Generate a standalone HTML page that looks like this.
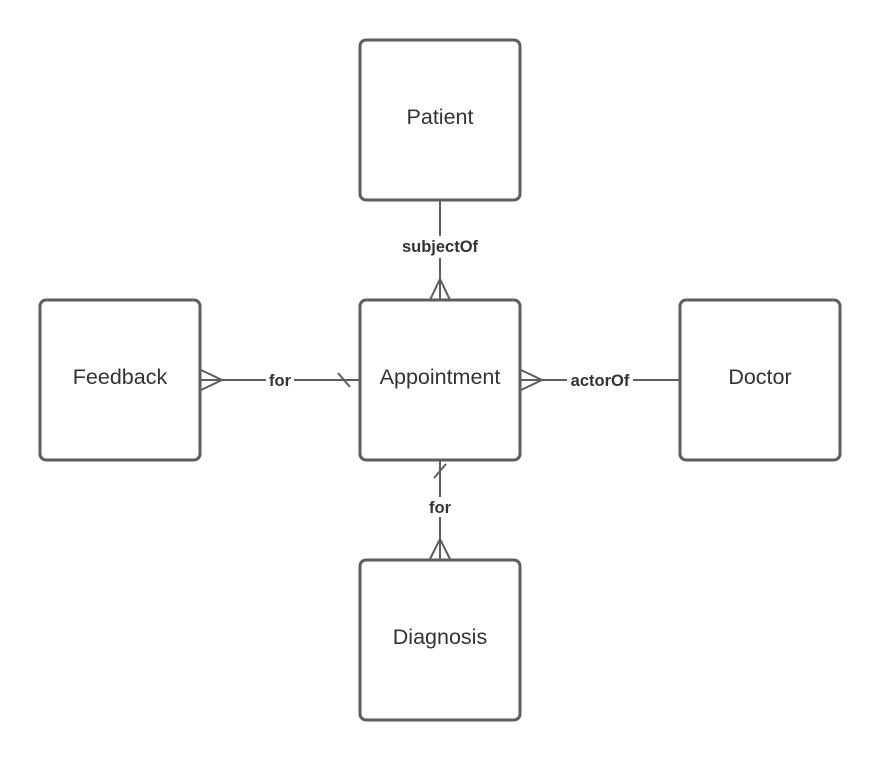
<!DOCTYPE html>
<html><head><style>body{margin:0;background:#fff}</style></head><body>
<svg width="880" height="760" xmlns="http://www.w3.org/2000/svg" font-family="Liberation Sans, sans-serif">
<g stroke="#5e5e5e" stroke-width="2" fill="none">
<line x1="440" y1="200" x2="440" y2="300"/>
<polyline points="430,300 440,279 450,300"/><line x1="440" y1="279" x2="440" y2="300"/>
<line x1="200" y1="380" x2="360" y2="380"/>
<polyline points="201,370 222,380 201,390"/>
<line x1="338" y1="373" x2="350" y2="387"/>
<line x1="520" y1="380" x2="680" y2="380"/>
<polyline points="521,370 542,380 521,390"/>
<line x1="440" y1="460" x2="440" y2="560"/>
<line x1="434" y1="478" x2="446" y2="464"/>
<polyline points="430,559 440,539 450,559"/>
</g>
<g fill="#fff">
<rect x="398" y="236" width="84" height="22"/>
<rect x="266" y="370" width="28" height="20"/>
<rect x="567" y="370" width="66" height="20"/>
<rect x="426" y="497" width="28" height="20"/>
</g>
<g font-size="16.5" font-weight="bold" fill="#333" text-anchor="middle">
<text x="440" y="252">subjectOf</text>
<text x="280" y="386">for</text>
<text x="600" y="386">actorOf</text>
<text x="440" y="513">for</text>
</g>
<g stroke="#5e5e5e" stroke-width="3" fill="#fff">
<rect x="360" y="40" width="160" height="160" rx="6"/>
<rect x="360" y="300" width="160" height="160" rx="6"/>
<rect x="40" y="300" width="160" height="160" rx="6"/>
<rect x="680" y="300" width="160" height="160" rx="6"/>
<rect x="360" y="560" width="160" height="160" rx="6"/>
</g>
<g font-size="21.5" fill="#333" text-anchor="middle">
<text x="440" y="124">Patient</text>
<text x="440" y="384">Appointment</text>
<text x="120" y="384">Feedback</text>
<text x="760" y="384">Doctor</text>
<text x="440" y="644">Diagnosis</text>
</g>
</svg>
</body></html>
